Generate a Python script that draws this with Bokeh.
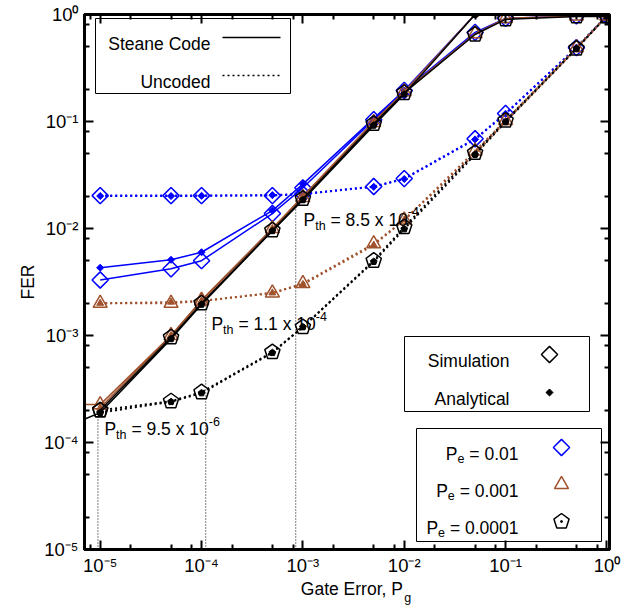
import math
from bokeh.plotting import figure
from bokeh.models import Range1d, FixedTicker, LogAxis, CustomJSTickFormatter, Label, BoxAnnotation
from bokeh.embed import file_html
from bokeh.resources import INLINE

FONT = "Liberation Sans"

# ---------------- data ----------------
pg = [1e-5, 5e-5, 1e-4, 5e-4, 1e-3, 5e-3, 1e-2, 5e-2, 1e-1, 5e-1, 1.0]
pg_ana = [1e-5, 5e-5, 1e-4, 5e-4, 1e-3, 5e-3, 1e-2, 5e-2]

# Steane code (solid lines)
steane_sim_pe1 = [3.3e-3, 4.2e-3, 5.0e-3, 1.38e-2, 2.4e-2, 0.104, 0.195, 0.68, 0.92, 0.97, 0.97]
steane_ana_pe1 = [4.3e-3, 5.1e-3, 6.0e-3, 1.47e-2, 2.6e-2, 0.107, 0.195, 1.0]
steane_sim_pe2_x = [1e-6, 1e-5, 5e-5, 1e-4, 5e-4, 1e-3, 5e-3, 1e-2, 5e-2, 1e-1, 5e-1, 1.0]
steane_sim_pe2 = [2.3e-4, 2.26e-4, 1.0e-3, 2.14e-3, 1.0e-2, 1.95e-2, 0.098, 0.19, 0.66, 0.92, 0.97, 0.97]
steane_ana_pe2 = [2.1e-4, 1.0e-3, 2.1e-3, 1.0e-2, 2.0e-2, 0.1, 0.19, 1.0]
steane_sim_pe3 = [2.0e-4, 9.6e-4, 2.0e-3, 9.6e-3, 1.9e-2, 0.095, 0.185, 0.65, 0.9, 0.96, 0.96]
steane_ana_pe3_x = [1e-6, 1e-5, 5e-5, 1e-4, 5e-4, 1e-3, 5e-3, 1e-2, 5e-2, 1e-1]
steane_ana_pe3 = [7.7e-5, 1.9e-4, 9.3e-4, 1.95e-3, 9.5e-3, 1.85e-2, 0.092, 0.18, 1.0, 2.0]

# Uncoded (dotted lines)
unc_sim_pe1 = [0.0203, 0.0203, 0.0203, 0.0203, 0.021, 0.0247, 0.0293, 0.069, 0.119, 0.49, 0.97]
unc_ana_pe1 = [0.0201, 0.0201, 0.0202, 0.0205, 0.021, 0.0245, 0.029, 0.068, 0.118, 0.49, 0.98]
unc_sim_pe2 = [2.0e-3, 2.0e-3, 2.1e-3, 2.5e-3, 3.06e-3, 7.2e-3, 0.012, 0.053, 0.102, 0.49, 0.97]
unc_ana_pe2 = [2.0e-3, 2.05e-3, 2.1e-3, 2.5e-3, 3.0e-3, 7.0e-3, 0.012, 0.05, 0.1, 0.48, 0.97]
unc_sim_pe3 = [2.0e-4, 2.43e-4, 2.95e-4, 7.0e-4, 1.2e-3, 5.0e-3, 0.0103, 0.051, 0.102, 0.48, 0.97]
unc_ana_pe3 = [1.9e-4, 2.4e-4, 2.9e-4, 6.9e-4, 1.2e-3, 4.9e-3, 0.0099, 0.049, 0.099, 0.48, 0.97]

# thresholds
pth_x = [9.5e-6, 1.1e-4, 8.5e-4]
pth_y = [2.0e-4, 2.1e-3, 1.9e-2]
pth_mant = ["9.5", "1.1", "8.5"]
pth_exp = ["-6", "-4", "-4"]

# ticks
x_major = [1e-5, 1e-4, 1e-3, 1e-2, 1e-1, 1.0]
y_major = [1e-5, 1e-4, 1e-3, 1e-2, 1e-1, 1.0]
x_minor = [k * 10.0 ** n for n in range(-6, 0) for k in (2, 5, 8)]
y_minor = [k * 10.0 ** n for n in range(-5, 0) for k in (2, 5, 8)]

pe_labels = ["0.01", "0.001", "0.0001"]

BLUE = "#0000FF"
BROWN = "#A0522D"
BLACK = "#000000"

# ---------------- geometry helpers ----------------
X0, X1 = 7e-6, 1.06
Y0, Y1 = 1e-5, 1.0
LX0, LX1 = math.log10(X0), math.log10(X1)
LY0, LY1 = math.log10(Y0), math.log10(Y1)
W, H = 635, 609
FL, FR, FT, FB = 84, 609, 14, 549
NB = "\u00a0"


def xpx(v):
    return FL + (math.log10(v) - LX0) / (LX1 - LX0) * (FR - FL)


def ypx(v):
    return FB - (math.log10(v) - LY0) / (LY1 - LY0) * (FB - FT)


def xdat(px):
    return 10 ** (LX0 + (px - FL) / (FR - FL) * (LX1 - LX0))


def ydat(py):
    return 10 ** (LY0 + (FB - py) / (FB - FT) * (LY1 - LY0))


HW = {' ': 278, NB: 278, '.': 278, ',': 278, '=': 584, '-': 333, 'x': 500, 'P': 667, 't': 278,
      'h': 556, 'e': 556, 'g': 556, 'G': 778, 'a': 556, 'E': 667, 'r': 333, 'o': 556,
      'S': 667, 'C': 722, 'd': 556, 'n': 556, 'U': 722, 'c': 500, 'i': 222, 'm': 833,
      'u': 556, 'l': 222, 'A': 667, 'y': 500, 'F': 611, 'R': 722}


def tw(s, size):
    return sum(HW.get(c, 556) for c in s) * size / 1000.0


p = figure(width=W, height=H, x_axis_type="log", y_axis_type="log",
           x_range=Range1d(X0, X1), y_range=Range1d(Y0, Y1),
           output_backend="svg", toolbar_location=None,
           min_border_left=FL, min_border_right=W - FR,
           min_border_top=FT, min_border_bottom=H - FB)
p.grid.visible = False
p.outline_line_color = "black"
p.outline_line_width = 3
p.background_fill_color = "white"
p.border_fill_color = "white"

empty = CustomJSTickFormatter(code="return '';")
powfmt = CustomJSTickFormatter(code="""
const sup = {'0':'\u2070','1':'\u00b9','2':'\u00b2','3':'\u00b3','4':'\u2074','5':'\u2075',
             '6':'\u2076','7':'\u2077','8':'\u2078','9':'\u2079','-':'\u207b'};
const e = String(Math.round(Math.log10(tick)));
let s = '10';
for (const c of e) { s += sup[c]; }
return s;
""")

TS = 18.5
FS = 17.5      # main text size
SS = 12.5      # sub/superscript size


def style_axis(ax, major, minor, labels):
    ax.ticker = FixedTicker(ticks=major, minor_ticks=minor)
    ax.formatter = powfmt if labels else empty
    ax.axis_line_width = 3
    ax.axis_line_color = "black"
    ax.major_tick_in = 9
    ax.major_tick_out = 0
    ax.minor_tick_in = 5
    ax.minor_tick_out = 0
    ax.major_tick_line_width = 2
    ax.minor_tick_line_width = 2
    ax.major_tick_line_color = "black"
    ax.minor_tick_line_color = "black"
    ax.major_label_text_font = FONT
    ax.major_label_text_font_size = f"{TS}px"
    ax.major_label_text_color = "black"


def style_title(ax, text, size, standoff):
    ax.axis_label = text
    ax.axis_label_text_font = FONT
    ax.axis_label_text_font_size = f"{size}px"
    ax.axis_label_text_font_style = "normal"
    ax.axis_label_text_color = "black"
    ax.axis_label_standoff = standoff


xa = p.xaxis[0]
ya = p.yaxis[0]
style_axis(xa, x_major, x_minor, True)
style_axis(ya, y_major, y_minor, True)
xa.major_label_standoff = 5
ya.major_label_standoff = 6
style_title(ya, "FER", FS, 3)
# x title: "Gate Error, P" with subscript "g" on a second, tick-less axis just below
style_title(xa, NB * 2 + "Gate Error, P", FS, 0)
sub_axis = LogAxis(ticker=FixedTicker(ticks=[]), formatter=empty,
                   axis_line_color=None, major_tick_in=0, major_tick_out=0,
                   minor_tick_in=0, minor_tick_out=0)
style_title(sub_axis, NB * 35 + "g", SS, -11)
p.add_layout(sub_axis, "below")

ra = LogAxis()
style_axis(ra, y_major, y_minor, False)
p.add_layout(ra, "right")
ta = LogAxis()
style_axis(ta, x_major, x_minor, False)
p.add_layout(ta, "above")


def ptext(px, py, s, size, align="left"):
    p.add_layout(Label(x=xdat(px), y=ydat(py), text=s, text_font=FONT,
                       text_font_size=f"{size}px", text_align=align,
                       text_baseline="alphabetic", text_color="black"))


def rich(pieces, px, py, align="left"):
    # pieces: (text, size, dy) with dy in pixels, positive = down
    total = sum(tw(t, s) for t, s, d in pieces)
    x = px
    if align == "right":
        x = px - total
    elif align == "center":
        x = px - total / 2.0
    for t, s, d in pieces:
        ptext(x, py + d, t, s)
        x += tw(t, s)


# ---------------- threshold markers ----------------
p.segment(x0=pth_x, y0=[Y0] * len(pth_x), x1=pth_x, y1=pth_y,
          line_color="black", line_width=1, line_dash="1 2")
pth_off = [(6.5, 19), (5.7, 23), (7.8, 21)]
for xv, yv, m, e, (ox, oy) in zip(pth_x, pth_y, pth_mant, pth_exp, pth_off):
    rich([("P", FS, 0), ("th", SS, 6), (NB + "=" + NB + m + NB + "x" + NB + "10", FS, 0), (e, SS, -8)],
         xpx(xv) + ox, ypx(yv) + oy)


# ---------------- series ----------------
def markers(x, y, color, shape, sim):
    if shape == "diamond":
        if sim:
            p.scatter(x, y, marker="square", angle=math.pi / 4, size=11.5,
                      line_color=color, fill_color=None, line_width=1.5)
        else:
            p.scatter(x, y, marker="square", angle=math.pi / 4, size=5,
                      line_color=color, fill_color=color, line_width=1)
    elif shape == "triangle":
        if sim:
            p.scatter(x, y, marker="triangle", size=14, line_color=color,
                      fill_color=None, line_width=1.5)
        else:
            p.scatter(x, y, marker="triangle", size=7, line_color=color,
                      fill_color=color, line_width=1)
    else:
        if sim:
            p.ngon(x=x, y=y, radius=8, radius_units="screen", n=5, angle=0,
                   line_color=color, fill_color=None, line_width=1.5)
        else:
            p.ngon(x=x, y=y, radius=3.5, radius_units="screen", n=5, angle=0,
                   line_color=color, fill_color=color, line_width=1)


def series(x, y, color, dash, lw, shape, sim):
    p.line(x, y, line_color=color, line_dash=dash, line_width=lw)
    xs = [a for a in x if X0 <= a <= X1]
    ys = [b for a, b in zip(x, y) if X0 <= a <= X1]
    markers(xs, ys, color, shape, sim)


DOT = "2 3"
# uncoded
series(pg, unc_sim_pe1, BLUE, DOT, 2, "diamond", True)
series(pg, unc_ana_pe1, BLUE, DOT, 2, "diamond", False)
series(pg, unc_sim_pe2, BROWN, DOT, 2, "triangle", True)
series(pg, unc_ana_pe2, BROWN, DOT, 2, "triangle", False)
series(pg, unc_sim_pe3, BLACK, DOT, 2, "pentagon", True)
series(pg, unc_ana_pe3, BLACK, DOT, 2, "pentagon", False)
# steane
series(pg, steane_sim_pe1, BLUE, "solid", 1.5, "diamond", True)
series(pg_ana, steane_ana_pe1, BLUE, "solid", 1.5, "diamond", False)
series(steane_sim_pe2_x, steane_sim_pe2, BROWN, "solid", 1.5, "triangle", True)
series(pg_ana, steane_ana_pe2, BROWN, "solid", 1.5, "triangle", False)
series(pg, steane_sim_pe3, BLACK, "solid", 1.5, "pentagon", True)
series(steane_ana_pe3_x, steane_ana_pe3, BLACK, "solid", 1.5, "pentagon", False)


# ---------------- legends ----------------
def box(l, r, t, b):
    p.add_layout(BoxAnnotation(left=xdat(l), right=xdat(r), top=ydat(t), bottom=ydat(b),
                               fill_color=None, line_color="black", line_width=1,
                               line_alpha=1.0))


# legend 1
box(95, 290, 18, 93)
ptext(210, 43.5, "Steane Code", FS, align="right")
ptext(210, 81, "Uncoded", FS, align="right")
p.line([xdat(222), xdat(280)], [ydat(37), ydat(37)], line_color="black", line_width=1.5)
p.line([xdat(222), xdat(280)], [ydat(75), ydat(75)], line_color="black", line_width=1.5,
       line_dash=DOT)

# legend 2
box(404, 589, 336, 411)
ptext(509, 360, "Simulation", FS, align="right")
ptext(509, 398, "Analytical", FS, align="right")
markers([xdat(549)], [ydat(354)], BLACK, "diamond", True)
markers([xdat(549)], [ydat(392)], BLACK, "diamond", False)

# legend 3
box(416, 601, 428, 541)
leg3_y = [447, 484, 521]
leg3_col = [BLUE, BROWN, BLACK]
leg3_shape = ["diamond", "triangle", "pentagon"]
for lab, yy, c, sh in zip(pe_labels, leg3_y, leg3_col, leg3_shape):
    rich([("P", FS, 0), ("e", SS, 5), (NB + "=" + NB + lab, FS, 0)], 518, yy + 6.3, align="right")
    markers([xdat(561)], [ydat(yy)], c, sh, True)
p.scatter([xdat(561)], [ydat(leg3_y[2])], marker="circle", size=2, color=BLACK)

open("out.html", "w").write(file_html(p, INLINE))
